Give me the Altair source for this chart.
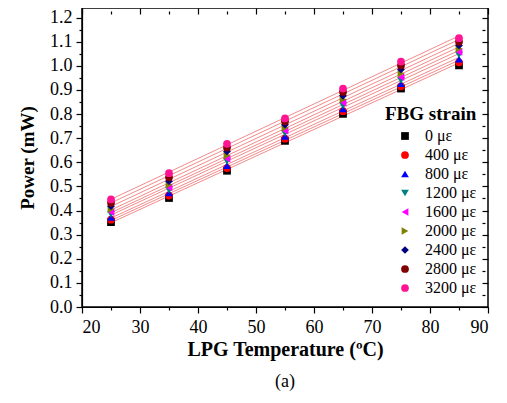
import altair as alt
import pandas as pd

temps = [25, 35, 45, 55, 65, 75, 85]
strains = ["0 με", "400 με", "800 με", "1200 με", "1600 με", "2000 με", "2400 με", "2800 με", "3200 με"]
s0 = [0.352, 0.452, 0.565, 0.689, 0.801, 0.906, 1.002]
s400 = [0.362, 0.462, 0.576, 0.698, 0.812, 0.915, 1.015]
s800 = [0.372, 0.473, 0.586, 0.708, 0.822, 0.926, 1.028]
s1200 = [0.384, 0.485, 0.604, 0.720, 0.835, 0.940, 1.045]
s1600 = [0.393, 0.496, 0.615, 0.731, 0.848, 0.953, 1.058]
s2000 = [0.405, 0.507, 0.628, 0.743, 0.861, 0.968, 1.072]
s2400 = [0.418, 0.522, 0.645, 0.756, 0.876, 0.985, 1.085]
s2800 = [0.432, 0.538, 0.661, 0.770, 0.892, 1.002, 1.100]
s3200 = [0.446, 0.555, 0.677, 0.782, 0.906, 1.018, 1.115]
series = [s0, s400, s800, s1200, s1600, s2000, s2400, s2800, s3200]

colors = ["#000000", "#ff0000", "#0000ff", "#008080", "#ff00ff", "#808000", "#000080", "#800000", "#ff1493"]
shapes = ["square", "circle", "triangle-up", "triangle-down", "triangle-left", "triangle-right", "diamond", "circle", "circle"]

rows = []
for name, vals in zip(strains, series):
    for t, v in zip(temps, vals):
        rows.append({"Temp": t, "Power": v, "strain": name})
df = pd.DataFrame(rows)

FONT = "Liberation Serif"
xvals = list(range(20, 95, 5))
yvals = [round(i * 0.05, 2) for i in range(0, 26)]
xlab = "datum.value % 10 == 0 ? datum.label : ''"
ylab = "abs(datum.value*10 - round(datum.value*10)) < 0.001 ? format(datum.value, '.1f') : ''"
xmaj = "datum.value % 10 == 0"
ymaj = "abs(datum.value*10 - round(datum.value*10)) < 0.001"

xscale = alt.Scale(domain=[20, 90], nice=False, zero=False)
yscale = alt.Scale(domain=[0, 1.24], nice=False, zero=False)

base = alt.Chart(df)

xax = alt.Axis(values=xvals, labelExpr=xlab, grid=False, labelFont=FONT, labelFontSize=18,
               labelPadding=5, titleFont=FONT, titleFontSize=20, titlePadding=3,
               tickSize={"condition": {"test": xmaj, "value": 6}, "value": 3})
yax = alt.Axis(values=yvals, labelExpr=ylab, grid=False, labelFont=FONT, labelFontSize=18,
               labelPadding=4, titleFont=FONT, titleFontSize=19, titlePadding=12,
               tickSize={"condition": {"test": ymaj, "value": 6}, "value": 3})

lines = base.transform_regression("Temp", "Power", groupby=["strain"]).mark_line(
    color="#f28b8b", strokeWidth=1
).encode(
    x=alt.X("Temp:Q", scale=xscale, title="LPG Temperature (ºC)", axis=xax),
    y=alt.Y("Power:Q", scale=yscale, title="Power (mW)", axis=yax),
    detail="strain:N",
)

leg = dict(title="FBG strain", orient="none", legendX=303, legendY=97,
           symbolOffset=12, labelOffset=12, rowPadding=3,
           labelFont=FONT, titleFont=FONT, labelFontSize=16, titleFontSize=19)

points = base.mark_point(filled=True, size=60, opacity=1).encode(
    x=alt.X("Temp:Q", scale=xscale, title="LPG Temperature (ºC)", axis=xax),
    y=alt.Y("Power:Q", scale=yscale, title="Power (mW)", axis=yax),
    color=alt.Color("strain:N", scale=alt.Scale(domain=strains, range=colors),
                    legend=alt.Legend(**leg)),
    shape=alt.Shape("strain:N", scale=alt.Scale(domain=strains, range=shapes),
                    legend=alt.Legend(**leg)),
)

mirror = base.mark_point(opacity=0).encode(
    x=alt.X("Temp:Q", scale=xscale,
            axis=alt.Axis(orient="top", values=xvals, labels=False, domain=False, title=None,
                          offset=-6, grid=False,
                          tickSize={"condition": {"test": xmaj, "value": 6}, "value": 3})),
    y=alt.Y("Power:Q", scale=yscale,
            axis=alt.Axis(orient="right", values=yvals, labels=False, domain=False, title=None,
                          offset=-6, grid=False,
                          tickSize={"condition": {"test": ymaj, "value": 6}, "value": 3})),
)

chart = alt.layer(alt.layer(lines, points), mirror).resolve_scale(
    x="independent", y="independent"
).properties(
    width=406, height=299,
    autosize="none",
    padding={"left": 74, "top": 0, "right": 10, "bottom": 93},
    title=alt.TitleParams("(a)", orient="bottom", fontSize=18, fontWeight="normal",
                          font=FONT, offset=14, anchor="middle", color="black"),
).configure_view(
    stroke="black", strokeWidth=1.5
).configure_axis(
    titleFontWeight="bold", labelColor="black", titleColor="black",
    domainColor="black", tickColor="black", domainWidth=1.2, tickWidth=1.2,
).configure_legend(
    titleColor="black", labelColor="black", symbolSize=60, titlePadding=4,
)

chart.save("out.html", embed_options={"renderer": "svg", "actions": False})
